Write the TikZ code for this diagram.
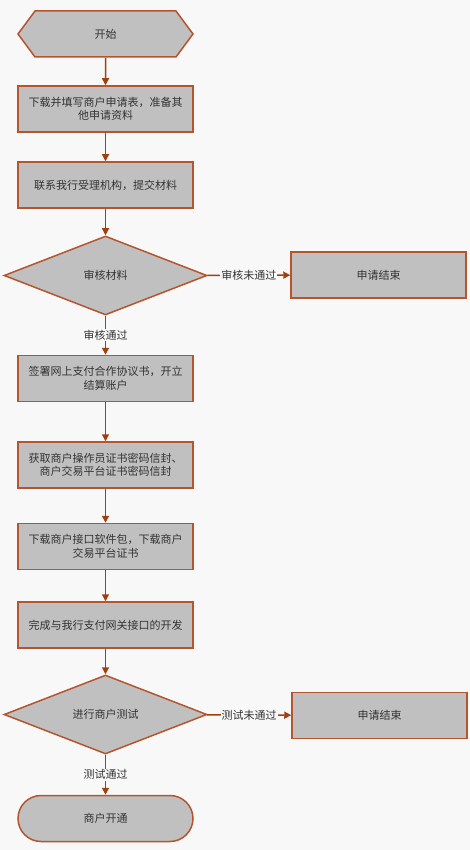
\documentclass[tikz,border=0pt]{standalone}
\usepackage{fontspec}
\setmainfont{Noto Sans CJK SC}
\usetikzlibrary{shapes.geometric,shapes.symbols,arrows.meta}
\definecolor{bgpage}{HTML}{F8F8F8}
\definecolor{boxfill}{HTML}{C0C0C0}
\definecolor{boxline}{HTML}{B4552D}
\definecolor{flowline}{HTML}{A0400F}
\definecolor{txt}{HTML}{333333}
\begin{document}
\begin{tikzpicture}[
x=1pt, y=-1pt,
every node/.style={
    font=\fontsize{11}{13.5}\selectfont,
    text=txt
},
proc/.style={
    rectangle,
    draw=boxline,
    fill=boxfill,
    line width=1.5pt,
    minimum width=175pt,
    minimum height=46pt,
    inner sep=2pt,
    align=center
},
startbox/.style={
    signal,
    signal to=east and west,
    signal pointer angle=107,
    draw=boxline,
    fill=boxfill,
    line width=1.5pt,
    minimum width=175pt,
    minimum height=46pt,
    inner sep=2pt
},
endbox/.style={
    proc,
    rounded corners=23pt
},
check/.style={
    diamond,
    aspect=2.57,
    draw=boxline,
    fill=boxfill,
    line width=1.5pt,
    minimum width=203pt,
    minimum height=79pt,
    inner sep=1pt
},
flow/.style={
    draw=flowline,
    line width=1.5pt,
    -{Triangle[length=7pt,width=7pt]}
},
lab/.style={
    fill=bgpage,
    inner sep=1pt
}
]
\useasboundingbox[fill=bgpage] (0,0) rectangle (470,850);

%---------------- Main column ----------------
\node[startbox] (start) at (105.5,34) {开始};
\node[proc] (apply) at (105.5,109) {下载并填写商户申请表，准备其\\他申请资料};
\node[proc] (submit) at (105.5,185) {联系我行受理机构，提交材料};
\node[check] (review) at (105.5,275.5) {审核材料};
\node[proc] (sign) at (105.5,378.5) {签署网上支付合作协议书，开立\\结算账户};
\node[proc] (envelope) at (105.5,465) {获取商户操作员证书密码信封、\\商户交易平台证书密码信封};
\node[proc] (download) at (105.5,546.5) {下载商户接口软件包，下载商户\\交易平台证书};
\node[proc] (develop) at (105.5,625) {完成与我行支付网关接口的开发};
\node[check] (test) at (105.5,714.5) {进行商户测试};
\node[endbox] (open) at (105.5,818.5) {商户开通};

%---------------- Side exits ----------------
\node[proc] (fail1) at (378.5,275) {申请结束};
\node[proc] (fail2) at (379.5,715.5) {申请结束};

\draw[flow] (start) -- (apply);
\draw[flow] (apply) -- (submit);
\draw[flow] (submit) -- (review);
\draw[flow] (review) -- node[lab] {审核未通过} (fail1);
\draw[flow] (review) -- node[lab] {审核通过} (sign);
\draw[flow] (sign) -- (envelope);
\draw[flow] (envelope) -- (download);
\draw[flow] (download) -- (develop);
\draw[flow] (develop) -- (test);
\draw[flow] (test) -- node[lab] {测试未通过} (fail2);
\draw[flow] (test) -- node[lab] {测试通过} (open);

\end{tikzpicture}
\end{document}
